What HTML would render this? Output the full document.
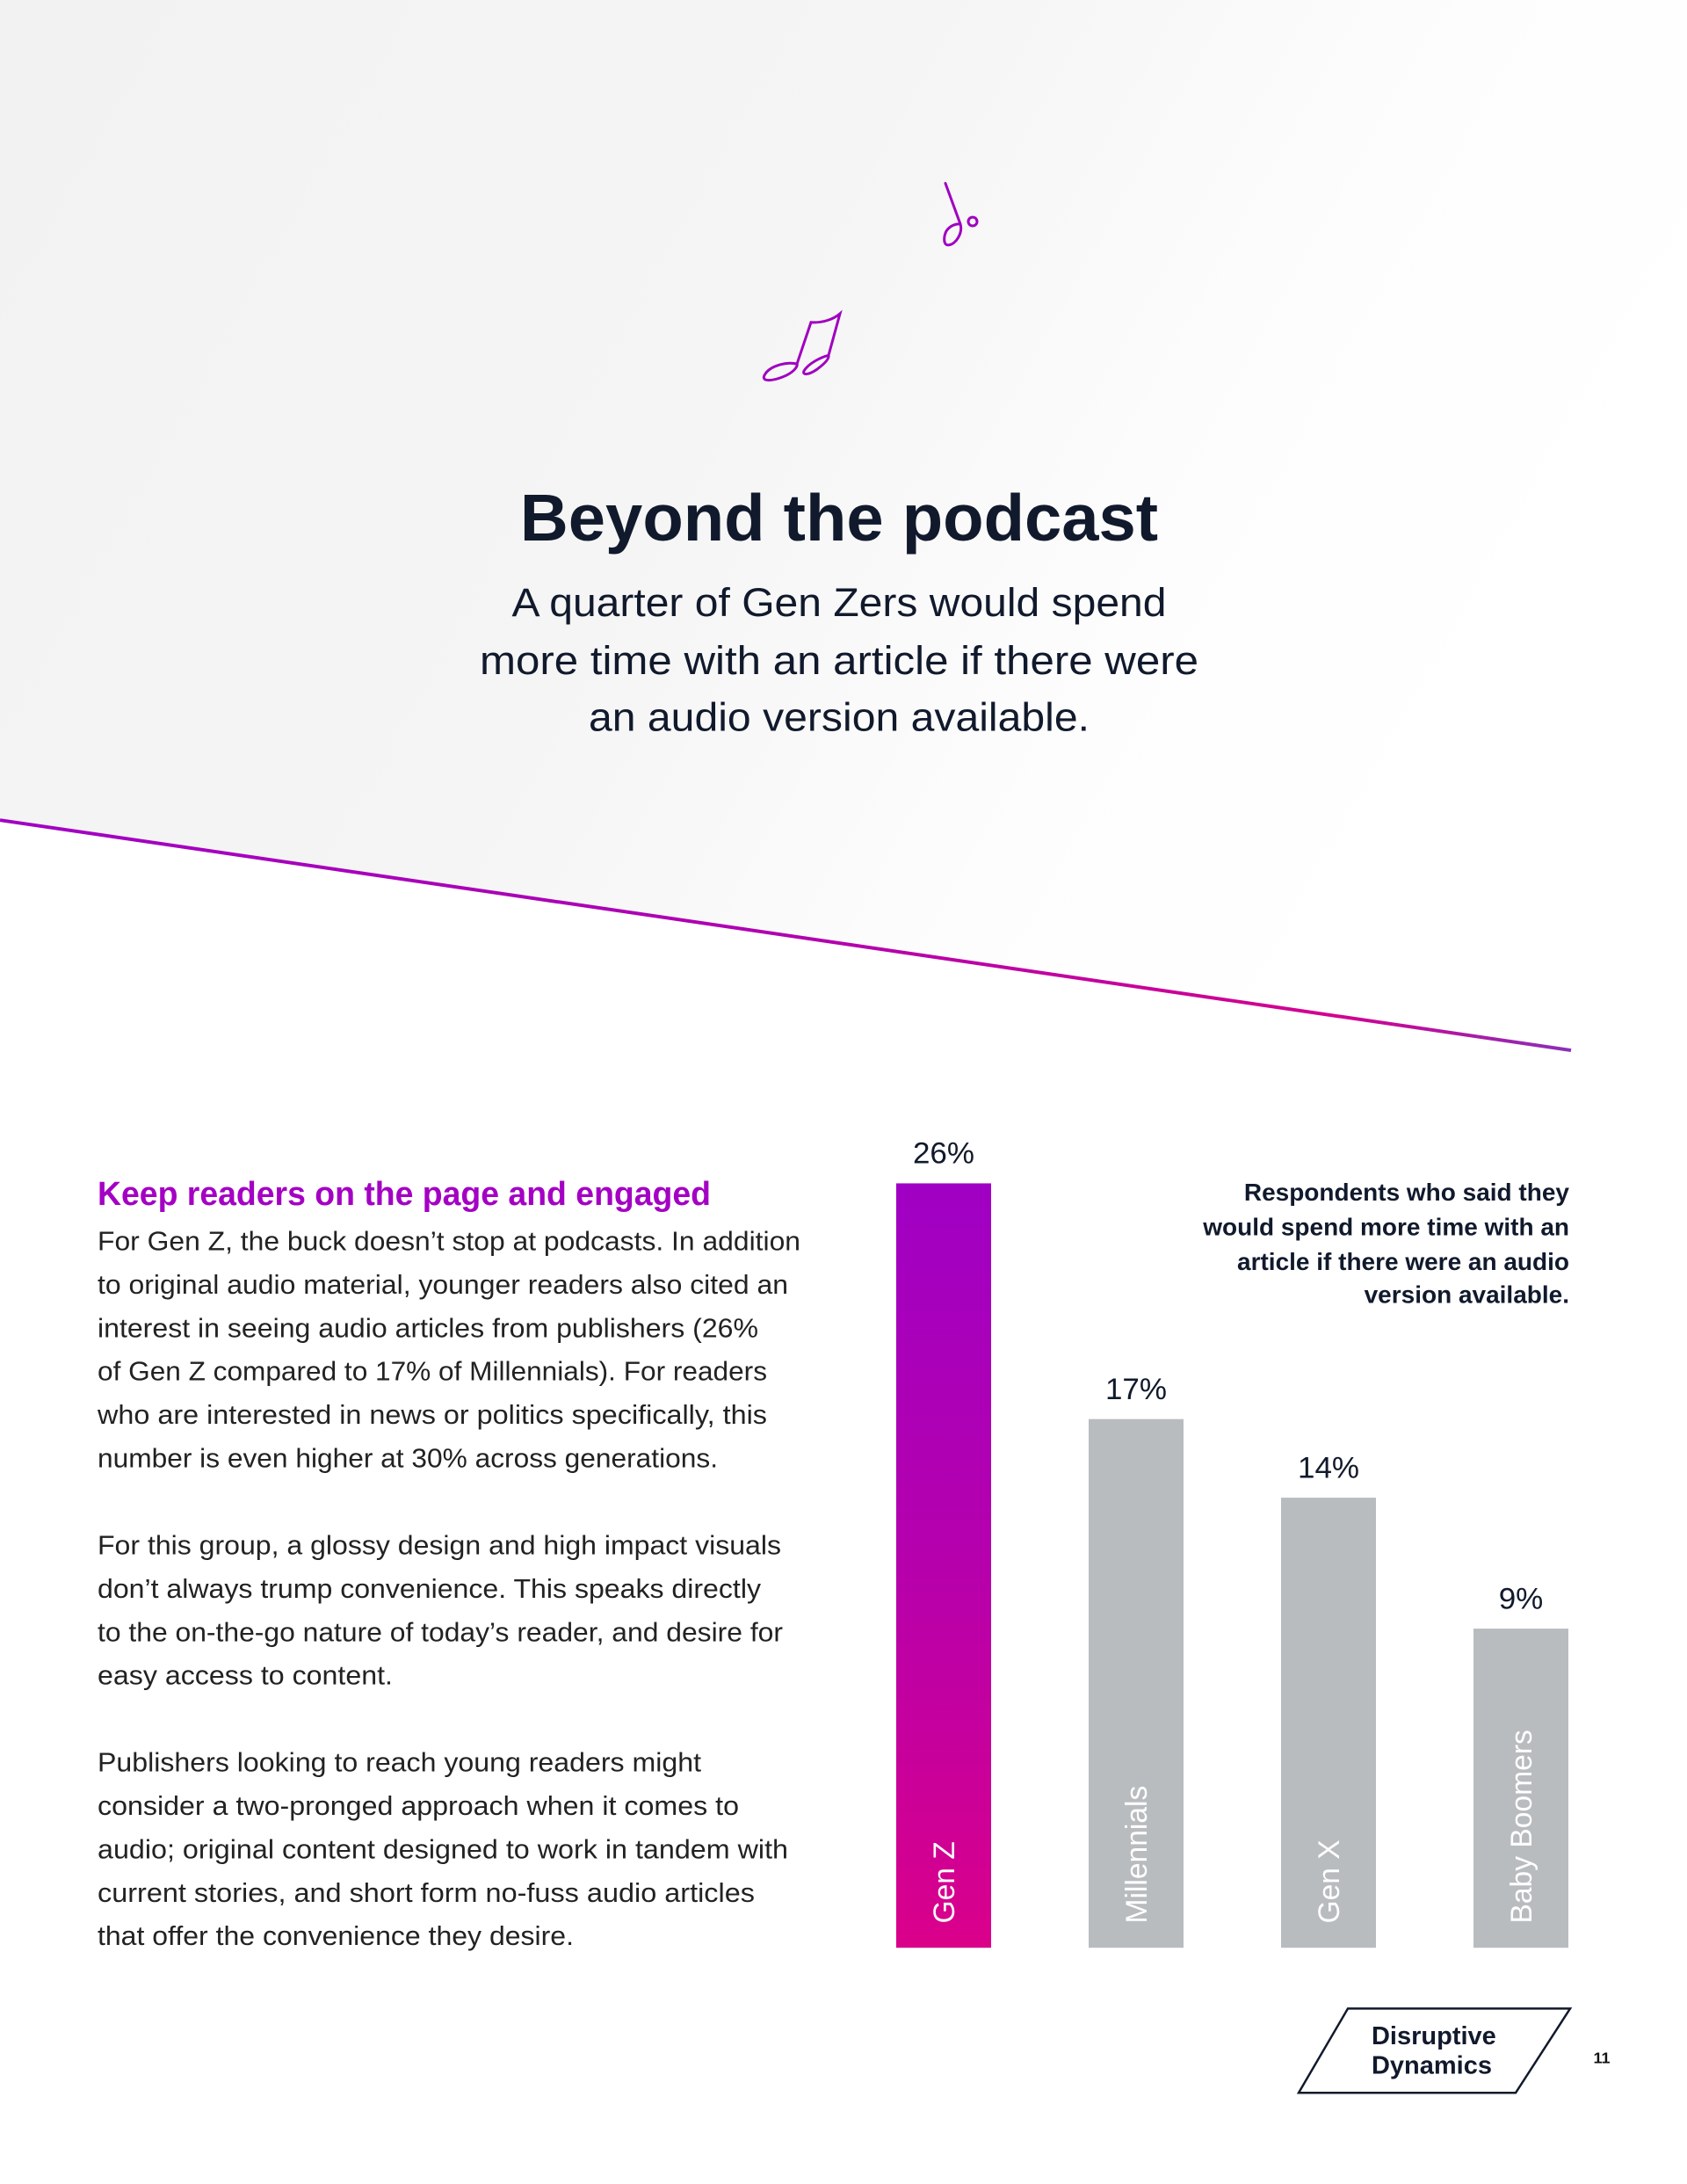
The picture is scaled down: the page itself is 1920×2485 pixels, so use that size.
<!DOCTYPE html>
<html><head><meta charset="utf-8"><style>
html,body{margin:0;padding:0;background:#fff}
svg{display:block}
</style></head><body>
<svg id="page" width="1920" height="2485" viewBox="0 0 1920 2485" xmlns="http://www.w3.org/2000/svg" font-family="'Liberation Sans', sans-serif">
<defs>
<linearGradient id="bgGrad" x1="0" y1="0" x2="1" y2="0.35">
<stop offset="0" stop-color="#f2f2f2"/><stop offset="0.5" stop-color="#f5f5f5"/><stop offset="0.78" stop-color="#fdfdfd"/><stop offset="1" stop-color="#ffffff"/>
</linearGradient>
<linearGradient id="lineGrad" x1="0" y1="0" x2="1" y2="0">
<stop offset="0" stop-color="#a000c4"/><stop offset="0.5" stop-color="#b000b0"/><stop offset="0.85" stop-color="#d4008e"/><stop offset="1" stop-color="#8a30b8"/>
</linearGradient>
<linearGradient id="barGrad" x1="0" y1="0" x2="0" y2="1">
<stop offset="0" stop-color="#a000c4"/><stop offset="0.5" stop-color="#b600ac"/><stop offset="1" stop-color="#da008a"/>
</linearGradient>
</defs>
<g transform="scale(1,0.9885)">
<polygon points="0,0 1920,0 1920,1220 1788,1209 0,944" fill="url(#bgGrad)"/>
<line x1="0" y1="944" x2="1788" y2="1209" stroke="url(#lineGrad)" stroke-width="4"/>
<g fill="none" stroke="#a000c0" stroke-width="3" stroke-linecap="round">
<path d="M1076,211 L1093,258"/>
<path d="M1093,258 C1096,268 1088,281 1080,282 C1073,283 1074,272 1077,266 C1081,260 1088,257 1093,258"/>
<circle cx="1107" cy="255" r="5"/>
<path d="M907,419 L923,371 C935,372 948,368 956,361 L943,409"/>
<path d="M907,419 C898,416 876,420 870,432 C866,440 880,439 895,432 C905,427 908,421 907,419"/>
<path d="M943,409 C935,411 920,418 915,427 C913,432 920,432 930,425 C938,419 944,413 943,409"/>
</g>
<text x="955" y="622" text-anchor="middle" font-size="76" font-weight="bold" fill="#111a2c">Beyond the podcast</text>
<g font-size="46" fill="#111a2c" text-anchor="middle">
<text x="955" y="709" textLength="745" lengthAdjust="spacingAndGlyphs">A quarter of Gen Zers would spend</text>
<text x="955" y="776" textLength="818" lengthAdjust="spacingAndGlyphs">more time with an article if there were</text>
<text x="955" y="841" textLength="570" lengthAdjust="spacingAndGlyphs">an audio version available.</text>
</g>
<text x="111" y="1387" font-size="38" font-weight="bold" fill="#a400c4" textLength="698" lengthAdjust="spacingAndGlyphs">Keep readers on the page and engaged</text>
<g font-size="31" fill="#222" transform="translate(0,16)">
<text x="111" y="1423" textLength="800" lengthAdjust="spacingAndGlyphs">For Gen Z, the buck doesn’t stop at podcasts. In addition</text>
<text x="111" y="1473" textLength="786" lengthAdjust="spacingAndGlyphs">to original audio material, younger readers also cited an</text>
<text x="111" y="1523" textLength="752" lengthAdjust="spacingAndGlyphs">interest in seeing audio articles from publishers (26%</text>
<text x="111" y="1573" textLength="762" lengthAdjust="spacingAndGlyphs">of Gen Z compared to 17% of Millennials). For readers</text>
<text x="111" y="1623" textLength="762" lengthAdjust="spacingAndGlyphs">who are interested in news or politics specifically, this</text>
<text x="111" y="1673" textLength="706" lengthAdjust="spacingAndGlyphs">number is even higher at 30% across generations.</text>
<text x="111" y="1773" textLength="778" lengthAdjust="spacingAndGlyphs">For this group, a glossy design and high impact visuals</text>
<text x="111" y="1823" textLength="755" lengthAdjust="spacingAndGlyphs">don’t always trump convenience. This speaks directly</text>
<text x="111" y="1873" textLength="780" lengthAdjust="spacingAndGlyphs">to the on-the-go nature of today’s reader, and desire for</text>
<text x="111" y="1923" textLength="336" lengthAdjust="spacingAndGlyphs">easy access to content.</text>
<text x="111" y="2023" textLength="687" lengthAdjust="spacingAndGlyphs">Publishers looking to reach young readers might</text>
<text x="111" y="2073" textLength="730" lengthAdjust="spacingAndGlyphs">consider a two-pronged approach when it comes to</text>
<text x="111" y="2123" textLength="786" lengthAdjust="spacingAndGlyphs">audio; original content designed to work in tandem with</text>
<text x="111" y="2173" textLength="748" lengthAdjust="spacingAndGlyphs">current stories, and short form no-fuss audio articles</text>
<text x="111" y="2223" textLength="542" lengthAdjust="spacingAndGlyphs">that offer the convenience they desire.</text>
</g>
<g font-size="28" font-weight="bold" fill="#111a2c" text-anchor="end">
<text x="1786" y="1382">Respondents who said they</text>
<text x="1786" y="1422">would spend more time with an</text>
<text x="1786" y="1462">article if there were an audio</text>
<text x="1786" y="1500">version available.</text>
</g>
<g id="chart"></g>
<g>
<polygon points="1534,2312 1787,2312 1725,2409 1478,2409" fill="#fff" stroke="#111a2c" stroke-width="2.5"/>
<text x="1561" y="2353" font-size="29" font-weight="bold" fill="#111a2c">Disruptive</text>
<text x="1561" y="2387" font-size="29" font-weight="bold" fill="#111a2c">Dynamics</text>
</g>
<text x="1823" y="2375" text-anchor="middle" font-size="18" font-weight="bold" fill="#111">11</text>
</g>
</svg>
<script>
const categories = ['Gen Z', 'Millennials', 'Gen X', 'Baby Boomers'];
const values = [26, 17, 14, 9];
const valueLabels = ['26%', '17%', '14%', '9%'];

const NS = 'http://www.w3.org/2000/svg';
const chart = document.getElementById('chart');
const baseY = 2242, barW = 108, firstX = 1020, step = 219;
function xPos(i){ return firstX + i * step; }
function yPos(v){ return baseY - (96 + 30.15 * v); }
categories.forEach(function(cat, i){
  const x = xPos(i), y = yPos(values[i]);
  const r = document.createElementNS(NS, 'rect');
  
  
  r.setAttribute('x', x); r.setAttribute('y', y);
  r.setAttribute('width', barW); r.setAttribute('height', baseY - y);
  r.setAttribute('fill', i === 0 ? 'url(#barGrad)' : '#b9bcbf');
  chart.appendChild(r);
  const t = document.createElementNS(NS, 'text');
  
  
  t.setAttribute('x', x + barW / 2); t.setAttribute('y', y - 23);
  t.setAttribute('text-anchor', 'middle'); t.setAttribute('font-size', '35');
  t.setAttribute('fill', '#111a2c');
  t.textContent = valueLabels[i];
  chart.appendChild(t);
  const c = document.createElementNS(NS, 'text');
  
  
  const cx = x + barW / 2 + 12, cy = baseY - 28;
  c.setAttribute('x', cx); c.setAttribute('y', cy);
  c.setAttribute('transform', 'rotate(-90 ' + cx + ' ' + cy + ')');
  c.setAttribute('font-size', '34'); c.setAttribute('fill', '#fff');
  c.textContent = cat;
  chart.appendChild(c);
});
</script>
</body></html>
